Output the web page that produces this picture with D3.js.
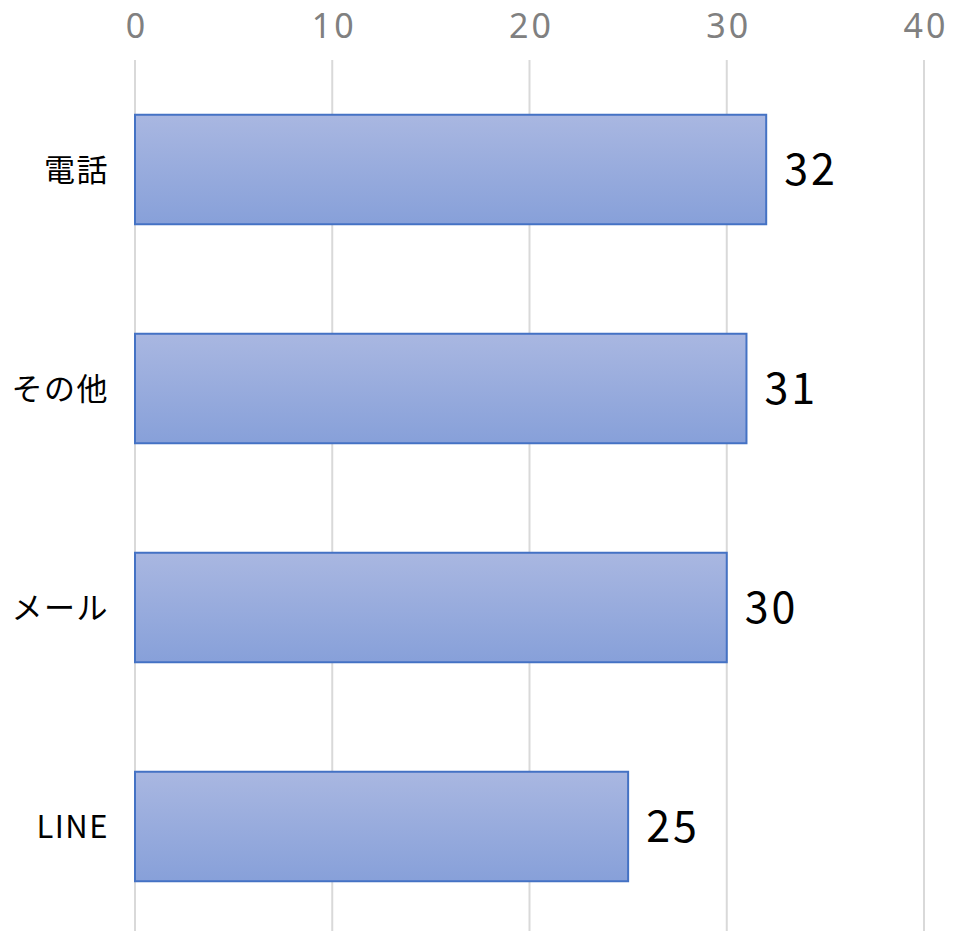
<!DOCTYPE html>
<html>
<head>
<meta charset="utf-8">
<script src="https://cdn.jsdelivr.net/npm/d3@7"></script>
<style>
  body { margin: 0; background: #fff; }
  text { font-family: "Noto Sans CJK JP", "Noto Sans", sans-serif; }
</style>
</head>
<body>
<div id="chart"></div>
<script>
const categories = ['電話', 'その他', 'メール', 'LINE']
const values = [32, 31, 30, 25]
const tickValues = [0, 10, 20, 30, 40]

const W = 953, H = 931
const m = {left: 135, right: 29, top: 60, bottom: 0}

const svg = d3.select('#chart')
    .append('svg')
    .attr('width', W)
    .attr('height', H)

// Gradient fill for bars
const grad = svg.append('defs')
    .append('linearGradient')
    .attr('id', 'barGrad')
    .attr('x1', 0).attr('y1', 0)
    .attr('x2', 0).attr('y2', 1)
grad.append('stop').attr('offset', '0%').attr('stop-color', '#a9b7e1')
grad.append('stop').attr('offset', '100%').attr('stop-color', '#87a0d9')

const xScale = d3.scaleLinear()
    .domain([0, 40])
    .range([m.left, W - m.right])

const yScale = d3.scaleBand()
    .domain(categories)
    .range([m.top, 936])
    .paddingInner(0.5)
    .paddingOuter(0.25)

// Gridlines
svg.append('g')
    .selectAll('line')
    .data(tickValues)
    .enter()
    .append('line')
    .attr('x1', d => xScale(d))
    .attr('x2', d => xScale(d))
    .attr('y1', m.top)
    .attr('y2', H)
    .attr('stroke', '#d9d9d9')
    .attr('stroke-width', 2)

// Top axis labels
const xAxis = d3.axisTop(xScale)
    .tickValues(tickValues)
    .tickSize(0)
    .tickPadding(0)

const xAxisCall = svg.append('g')
    .attr('transform', 'translate(0, 38)')
    .call(xAxis)
xAxisCall.select('.domain').remove()
xAxisCall.selectAll('text')
    .attr('font-size', '34px')
    .attr('fill', '#808080')
    .attr('dy', 0)
    .attr('letter-spacing', '3px')
    .attr('dx', '1.5px')
    .style('font-family', '"Noto Sans", sans-serif')

// Bars
svg.append('g')
    .selectAll('rect')
    .data(values)
    .enter()
    .append('rect')
    .attr('x', xScale(0))
    .attr('y', (d, i) => yScale(categories[i]))
    .attr('width', d => xScale(d) - xScale(0))
    .attr('height', yScale.bandwidth())
    .attr('fill', 'url(#barGrad)')
    .attr('stroke', '#4472c4')
    .attr('stroke-width', 2)

// Category labels
svg.append('g')
    .selectAll('text')
    .data(categories)
    .enter()
    .append('text')
    .attr('x', 109)
    .attr('y', d => yScale(d) + yScale.bandwidth() / 2)
    .attr('dy', '0.36em')
    .attr('text-anchor', 'end')
    .attr('font-size', '31px')
    .attr('letter-spacing', '1.5px')
    .attr('fill', '#000')
    .text(d => d)

// Value labels
svg.append('g')
    .selectAll('text')
    .data(values)
    .enter()
    .append('text')
    .attr('x', d => xScale(d) + 18)
    .attr('y', (d, i) => yScale(categories[i]) + yScale.bandwidth() / 2)
    .attr('dy', '0.36em')
    .attr('font-size', '43px')
    .attr('letter-spacing', '3px')
    .attr('fill', '#000')
    .text(d => d)
</script>
</body>
</html>
